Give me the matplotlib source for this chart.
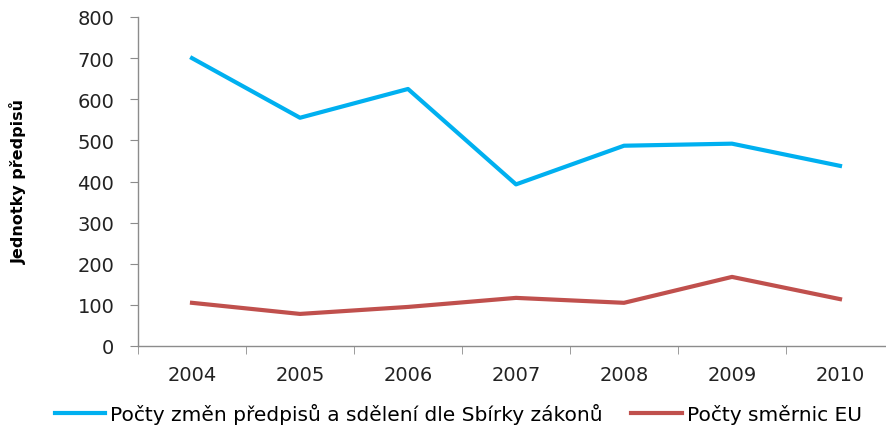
import numpy as np
import matplotlib.pyplot as plt

years = ['2004', '2005', '2006', '2007', '2008', '2009', '2010']
sbirka = [700, 555, 625, 393, 487, 492, 438]
smernice = [105, 78, 95, 117, 105, 168, 114]

label_sbirka = 'Počty změn předpisů a sdělení dle Sbírky zákonů'
label_eu = 'Počty směrnic EU'

plt.rcParams['font.family'] = ['DejaVu Sans']

fig = plt.figure(figsize=(8.87, 4.31), dpi=100)
# axes runs a little past the right edge, as in the original
ax = fig.add_axes([138 / 887, 1 - 347 / 431, 756 / 887, 329 / 431])

x = np.arange(len(years))
ax.plot(x, sbirka, color='#00B0F0', lw=3, label=label_sbirka)
ax.plot(x, smernice, color='#C0504D', lw=3, label=label_eu)

ax.set_xlim(-0.5, len(years) - 0.5)
ax.set_ylim(0, 800)
ax.set_yticks(range(0, 801, 100))
ax.set_xticks(x)
ax.set_xticklabels(years)
ax.set_xticks(np.arange(-0.5, len(years)), minor=True)

for s in ['top', 'right']:
    ax.spines[s].set_visible(False)
for s in ['left', 'bottom']:
    ax.spines[s].set_color('#8c8c8c')
    ax.spines[s].set_linewidth(1)

ax.tick_params(axis='y', length=6, color='#8c8c8c', labelsize=14, pad=11, labelcolor='#222222')
ax.tick_params(axis='x', which='major', length=0, labelsize=14, pad=14, labelcolor='#222222')
ax.tick_params(axis='x', which='minor', length=6, color='#8c8c8c')

fig.text(18 / 887, 1 - 181 / 431, 'Jednotky předpisů', rotation=90, ha='center', va='center',
         fontsize=11.5, fontweight='bold')

fig.legend(loc='center left', bbox_to_anchor=(55 / 887, 1 - 415 / 431), ncol=2, frameon=False,
           fontsize=14.5, handlelength=2.5, handletextpad=0.25, columnspacing=1.4,
           borderpad=0, borderaxespad=0)

fig.savefig('out.png', dpi=100)
